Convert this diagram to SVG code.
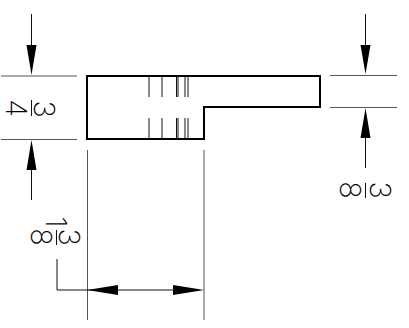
<svg xmlns="http://www.w3.org/2000/svg" width="409" height="328" viewBox="0 0 409 328">
<style>
.b{fill:none;stroke:#000;stroke-width:2}
.l{fill:none;stroke:#111;stroke-width:1}
.g{fill:none;stroke:#555;stroke-width:1}
.h{fill:#000}
.t{font-family:"Inter","Roboto","Liberation Sans",sans-serif;font-weight:200;font-size:29px;fill:#000;text-anchor:middle}
.d{opacity:.99}
</style>
<rect width="409" height="328" fill="#fff"/>
<g id="part">
<path class="b" d="M87 76H320V107H204V139H87Z"/>
<path class="l" d="M149 76V97M162 76V97M176.500 76V97M178 76V97M185 76V97M188 76V97M149 118V139M162 118V139M176.500 118V139M178 118V139M185 118V139M188 118V139"/>
</g>
<g id="connectors">
<path class="g" d="M1 76H77M1 139.500H77M330 75.500H397M330 107.500H397M87.500 150V320M204 150V320"/>
<path class="l" d="M31.500 14V50M31.500 170V200M365.500 14V50M365.500 138V168M57 259V290H118M118 290H173"/>
<path class="h" d="M31.500 75L26.500 45H36.500ZM31.500 140L26.500 170H36.500ZM365.500 74L360.500 45H370.500ZM365.500 108L360.500 138H370.500ZM87 290L118 285V295ZM204 290L173 285V295Z"/>
</g>
<g id="dim-3-4" class="d">
<text class="t" transform="translate(34 109) rotate(90)">3</text>
<path class="l" d="M31.500 100V116"/>
<text class="t" transform="translate(6 108) rotate(90)">4</text>
</g>
<g id="dim-3-8" class="d">
<text class="t" transform="translate(370 190) rotate(90)">3</text>
<path class="l" d="M365.500 183V198"/>
<text class="t" transform="translate(340 190) rotate(90)">8</text>
</g>
<g id="dim-1-3-8" class="d">
<text class="t" transform="translate(46 222) rotate(90)">1</text>
<text class="t" transform="translate(59 237) rotate(90)">3</text>
<path class="l" d="M56.500 230V245"/>
<text class="t" transform="translate(31 237) rotate(90)">8</text>
</g>
</svg>
